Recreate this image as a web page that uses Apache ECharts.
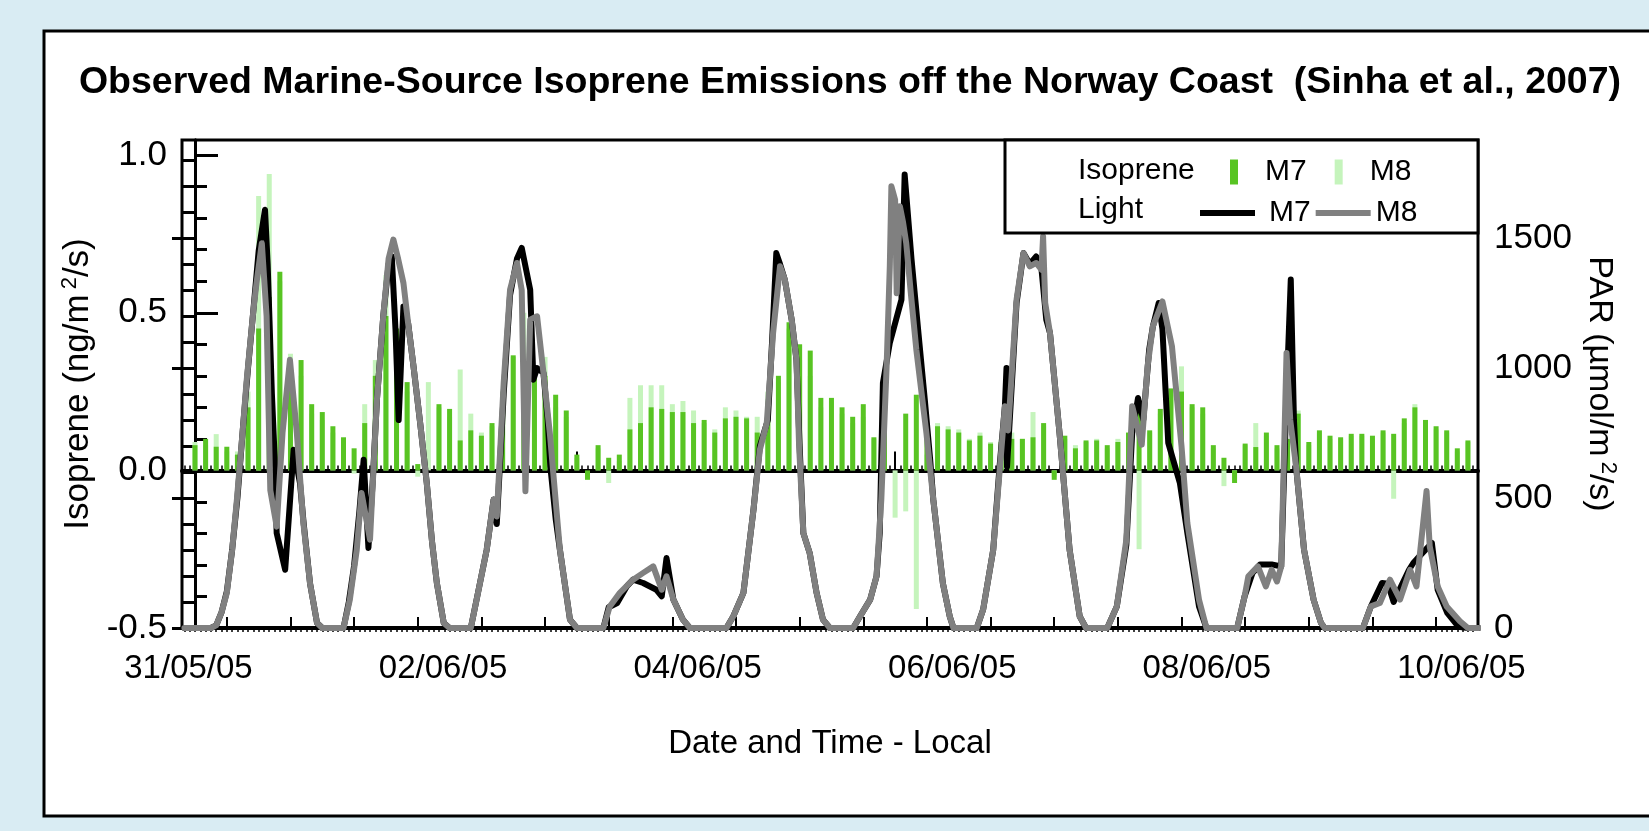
<!DOCTYPE html>
<html>
<head>
<meta charset="utf-8">
<script src="https://cdn.jsdelivr.net/npm/echarts@6/dist/echarts.min.js"></script>
<style>
html,body{margin:0;padding:0;background:#d9ecf3;}
#chart{width:1649px;height:831px;}
</style>
</head>
<body>
<div id="chart"></div>
<script>
// ---------- DATA ----------
const titleText = 'Observed Marine-Source Isoprene Emissions off the Norway Coast  (Sinha et al., 2007)';
// x values are hours after 31/05/05 00:00 local time
const xLabelHours = [0, 48, 96, 144, 192, 240];
const xLabels = ['31/05/05', '02/06/05', '04/06/05', '06/06/05', '08/06/05', '10/06/05'];
const leftTickValues = [-0.5, 0, 0.5, 1.0];
const leftTickLabels = ['-0.5', '0.0', '0.5', '1.0'];
const rightTickValues = [0, 500, 1000, 1500];
const rightTickLabels = ['0', '500', '1000', '1500'];

// isoprene flux, one bar every 2 h starting 31/05 00:00 (ng/m2/s)
const isopreneM7 = [
 0.08,0.10,0.075,0.075,0.05,0.20,0.45,0.55,0.63,0.34,
 0.35,0.21,0.185,0.14,0.105,0.07,0.15,0.30,0.49,0.45,
 0.28,0.02,null,0.21,0.195,0.095,0.127,0.11,0.15,0.22,
 0.365,0.30,0.33,0.30,0.24,0.19,0.05,-0.03,0.08,0.04,
 0.05,0.13,0.15,0.20,0.195,0.185,0.185,0.15,0.16,0.12,
 0.165,0.17,0.165,0.12,0.20,0.30,0.47,0.40,0.38,0.23,
 0.23,0.20,0.17,0.21,0.105,0.15,null,0.18,0.24,0.12,
 0.14,0.13,0.12,0.095,0.11,0.085,0.09,0.10,0.10,0.105,
 0.15,-0.03,0.11,0.07,0.095,0.095,0.08,0.09,0.12,0.21,
 0.127,0.195,0.26,0.25,0.21,0.20,0.08,0.04,-0.04,0.085,
 0.074,0.12,0.08,0.10,0.18,0.09,0.127,0.11,0.105,0.116,
 0.116,0.11,0.127,0.116,0.165,0.20,0.16,0.14,0.127,0.07,
 0.095
];
const isopreneM8 = [
 0.09,0.08,0.115,0.06,0.06,0.25,0.87,0.94,0.60,0.37,
 0.30,0.18,0.16,0.12,0.09,-0.01,0.21,0.35,0.62,0.35,
 0.25,-0.02,0.28,0.20,0.17,0.32,0.18,0.12,0.14,0.25,
 0.36,0.50,0.30,0.36,0.20,0.17,0.04,0.00,0.07,-0.04,
 0.03,0.23,0.27,0.27,0.27,0.21,0.22,0.19,0.15,0.13,
 0.20,0.19,0.17,0.17,0.25,0.28,0.45,0.35,0.30,0.20,
 0.22,0.18,0.15,0.17,0.10,0.12,-0.15,-0.13,-0.44,0.05,
 0.15,0.14,0.13,0.10,0.12,0.09,0.10,0.12,0.10,0.185,
 0.14,-0.02,0.10,0.08,0.09,0.10,0.07,0.10,0.11,-0.25,
 0.12,0.18,0.24,0.33,0.20,0.18,0.07,-0.05,-0.03,0.08,
 0.15,0.11,0.07,0.09,0.19,0.08,0.12,0.10,0.10,0.11,
 0.11,0.10,0.12,-0.09,0.15,0.21,0.15,0.13,0.12,0.06,
 0.09
];
const barStepHours = 2;

// PAR (umol/m2/s) as [hour, value]
const lightM7 = [
 [-2,0],[0,0],[3,0],[4,10],[5,60],[6,140],[7,300],[8,500],[9,760],[10,1000],[11,1220],[12,1450],[13.2,1609],[13.7,1400],[14.5,900],[15.1,620],[15.4,365],[17,224],[18.6,686],[19.8,557],[20.5,400],[21.7,170],[23,20],[24,0],
 [28,0],[29,100],[30,240],[31,450],[31.8,647],[32.7,308],[33.5,560],[34.3,878],[35.5,1200],[36.5,1400],[37.1,1430],[37.8,1150],[38.4,800],[39.3,1237],[40.2,1170],[41.2,1006],[42.5,780],[43.7,557],[44.7,330],[45.6,173],[46.9,19],[48,0],
 [52,0],[53,100],[55,301],[56.3,494],[56.9,400],[58.2,900],[59.4,1280],[60.7,1420],[61.6,1462],[63.2,1301],[63.8,955],[64.5,1000],[65.7,981],[66.5,800],[67,620],[68,420],[68.8,301],[70.7,32],[72,0],
 [77,0],[78,80],[79.6,96],[81.4,160],[82.6,186],[84.5,173],[87,147],[88,122],[88.9,269],[90.2,109],[92,32],[93.3,0],
 [100.2,0],[101.5,45],[103.4,135],[105.3,455],[106.5,700],[108,800],[108.8,1100],[109.6,1442],[110.3,1400],[111.2,1340],[112.5,1186],[113.4,1032],[114,700],[114.7,365],[115.9,288],[117.2,135],[118.4,32],[119.7,0],
 [124.1,0],[125.4,45],[127.3,109],[128.5,199],[129.1,365],[129.7,942],[131,1096],[133.2,1263],[133.8,1744],[135.1,1417],[136.4,1135],[137.6,878],[138.6,650],[139.2,494],[141,173],[142.3,45],[143,0],
 [147.4,0],[148.6,71],[150.5,301],[151.7,622],[152.7,853],[153,1000],[153.1,620],[154.9,1250],[156.2,1442],[157.4,1400],[158.6,1429],[159.6,1380],[160.5,1186],[161.2,1135],[163,750],[164.9,301],[166.8,45],[168,0],
 [172,0],[173.8,83],[175.6,320],[176.7,750],[177.8,885],[178.8,801],[179.9,1070],[180.6,1160],[181.7,1250],[182.4,1150],[183.5,712],[185.7,557],[187.1,365],[189.3,83],[190.7,0],
 [196.5,0],[197.9,122],[199.4,212],[200.8,244],[203,244],[204.8,237],[205.8,900],[206.6,1340],[207.2,800],[207.6,622],[209.1,301],[210.9,109],[212.3,19],[213,0],
 [220.2,0],[221.7,83],[223.8,173],[224.9,170],[226,100],[227.4,160],[228.9,224],[229.7,250],[231.4,288],[233.2,327],[234.3,147],[236.1,58],[238.2,5],[240,0],[242,0]
];
const lightM8 = [
 [-2,0],[0,0],[3,0],[4,10],[5,60],[6,135],[7,300],[7.9,494],[9,760],[9.7,942],[11,1220],[11.6,1327],[12.6,1480],[13.5,1200],[14.2,530],[15.4,390],[16.5,750],[17.9,1032],[19.2,750],[20.4,410],[21.7,170],[23,20],[24,0],
 [28,0],[29.2,109],[30.5,301],[31.4,519],[33,340],[34.3,878],[35.5,1200],[36.5,1420],[37.4,1494],[38.3,1420],[39.3,1327],[40.2,1170],[41.2,1006],[42.5,780],[43.7,557],[44.7,330],[45.6,173],[46.9,19],[48,0],
 [52,0],[53.1,109],[55,301],[56.3,494],[56.9,429],[58.2,942],[59.4,1301],[60.7,1404],[61.6,1300],[62.3,526],[63.2,1186],[64.5,1199],[65.7,981],[66.9,750],[68.8,301],[70.7,32],[72,0],
 [77,0],[78.2,83],[80.1,135],[82.6,186],[84.5,212],[86.4,237],[88,147],[88.9,199],[90.2,109],[92,32],[93.3,0],
 [100.2,0],[101.5,45],[103.4,135],[105.3,455],[106.5,686],[107.8,788],[109,1135],[110.3,1391],[111.2,1340],[112.5,1186],[113.4,1032],[113.9,700],[114.7,365],[115.9,288],[117.2,135],[118.4,32],[119.7,0],
 [124.1,0],[125.4,45],[127.3,109],[128.5,199],[129.4,494],[130.4,1006],[131,1391],[131.3,1699],[132,1647],[132.3,1288],[132.9,1622],[133.5,1560],[134.1,1480],[135,1280],[136,1071],[137.9,750],[139.2,494],[141,173],[142.3,45],[143,0],
 [147.4,0],[148.6,71],[150.5,301],[152.7,853],[153.3,760],[154.9,1263],[156.2,1442],[157.4,1391],[158.6,1404],[159.6,1378],[159.9,1506],[160.3,1250],[161.2,1135],[163,750],[164.9,301],[166.8,45],[168,0],
 [172,0],[173.8,83],[175.6,340],[176.7,853],[178.5,705],[179.6,1006],[180.6,1160],[182.4,1256],[184.2,1083],[186,699],[187.1,404],[189.3,109],[190.7,0],
 [196.5,0],[197.9,122],[198.6,199],[200.4,237],[201.9,160],[203,224],[204,179],[204.8,237],[205.8,1058],[206.5,800],[207.6,622],[209.1,301],[210.9,109],[212.3,19],[213,0],
 [220.2,0],[221.7,83],[223.4,96],[225.3,186],[227.2,109],[229.1,224],[230.3,160],[232.2,527],[232.8,314],[234.3,160],[236,83],[238.5,26],[240,0],[242,0]
];

// ---------- LAYOUT CONSTANTS ----------
const X_MIN = -2.45, X_MAX = 241.9;
const YL_MIN = -0.5, YL_MAX = 1.048;
const YR_MIN = 0, YR_MAX = 1877;
const FONT = '"Liberation Sans", Arial, sans-serif';

const hourTicks = [], sixTicks = [], twelveTicks = [];
for (let h = -2; h <= 241; h++) {
  if (h % 12 === 0) twelveTicks.push(h);
  else if (h % 6 === 0) sixTicks.push(h);
  else hourTicks.push(h);
}
const leftMinor = [], rightMinor = [];
for (let k = -4; k <= 10; k++) { if (k % 5 !== 0) leftMinor.push(k / 10); }
for (let k = 1; k <= 18; k++) { if (k % 5 !== 0) rightMinor.push(k * 100); }

const barsM7 = isopreneM7.map((v, i) => [i * barStepHours, v]);
const barsM8 = isopreneM8.map((v, i) => [i * barStepHours, v]);

const chart = echarts.init(document.getElementById('chart'));

function xAxisBase(extra) {
  return Object.assign({
    type: 'value', min: X_MIN, max: X_MAX, gridIndex: 0,
    splitLine: { show: false },
    axisLine: { show: false },
    axisLabel: { show: false },
    axisTick: { show: false }
  }, extra);
}
function yAxisBase(extra) {
  return Object.assign({
    type: 'value', gridIndex: 0,
    splitLine: { show: false },
    axisLine: { show: false },
    axisLabel: { show: false },
    axisTick: { show: false }
  }, extra);
}

const supStyle = { fontFamily: FONT, fontSize: 22, color: '#000', padding: [0, 0, 17, 5] };
const legendText = { fontFamily: FONT, fontSize: 30, color: '#000' };

const option = {
  backgroundColor: '#d9ecf3',
  animation: false,
  title: {
    text: titleText,
    left: 845, top: 59, textAlign: 'center',
    textStyle: { fontFamily: FONT, fontWeight: 'bold', fontSize: 37.5, color: '#000' }
  },
  graphic: [
    { type: 'rect', z: -10, shape: { x: 44, y: 31, width: 1700, height: 785 }, style: { fill: '#ffffff', stroke: '#000', lineWidth: 3 } },
    { type: 'rect', z: 10, shape: { x: 1005, y: 140, width: 473, height: 93 }, style: { fill: '#ffffff', stroke: '#000', lineWidth: 3 } },
    { type: 'text', z: 20, left: 1078, top: 156, style: { text: 'Isoprene', font: '30px ' + FONT, fill: '#000' } },
    { type: 'text', z: 20, left: 1078, top: 195, style: { text: 'Light', font: '30px ' + FONT, fill: '#000' } }
  ],
  legend: [
    {
      z: 20, left: 1225, top: 152,
      data: [
        { name: 'Isoprene M7', textStyle: Object.assign({ padding: [0, 0, 0, 22] }, legendText) },
        { name: 'Isoprene M8', textStyle: Object.assign({ padding: [0, 0, 0, 22] }, legendText) }
      ],
      icon: 'rect', itemWidth: 8, itemHeight: 25, itemGap: 28, selectedMode: false,
      formatter: n => n.split(' ')[1],
      textStyle: legendText
    },
    {
      z: 20, left: 1195, top: 193,
      data: [
        { name: 'Light M7', textStyle: Object.assign({ padding: [0, 0, 0, 9] }, legendText) },
        { name: 'Light M8', textStyle: Object.assign({ padding: [0, 0, 0, 0] }, legendText) }
      ],
      icon: 'rect', itemWidth: 55, itemHeight: 6, itemGap: 5, selectedMode: false,
      formatter: n => n.split(' ')[1],
      textStyle: legendText
    }
  ],
  grid: { left: 182, right: 171, top: 140, bottom: 203, show: true, borderColor: '#000', borderWidth: 3, backgroundColor: 'transparent' },
  xAxis: [
    xAxisBase({
      position: 'bottom',
      axisLine: { show: true, lineStyle: { color: '#000', width: 4 } },
      axisTick: { show: true, inside: true, length: 19, lineStyle: { color: '#000', width: 2 }, customValues: twelveTicks },
      axisLabel: {
        show: true, customValues: xLabelHours, margin: 24, padding: [0, 13, 0, 0],
        fontFamily: FONT, fontSize: 33, color: '#000',
        formatter: v => { const k = xLabelHours.indexOf(v); return k >= 0 ? xLabels[k] : ''; }
      },
      name: 'Date and Time - Local', nameLocation: 'middle', nameGap: 99,
      nameTextStyle: { fontFamily: FONT, fontSize: 33, color: '#000' }
    }),
    xAxisBase({ position: 'bottom', axisTick: { show: true, inside: true, length: 11, lineStyle: { color: '#000', width: 2 }, customValues: sixTicks } }),
    xAxisBase({ position: 'bottom', axisTick: { show: true, inside: true, length: 5, lineStyle: { color: '#000', width: 1.5 }, customValues: hourTicks } }),
    xAxisBase({ position: 'top', axisLine: { show: true, lineStyle: { color: '#000', width: 4 } }, axisTick: { show: true, inside: true, length: 4, lineStyle: { color: '#000', width: 1.5 }, customValues: hourTicks.concat(sixTicks, twelveTicks) } })
  ],
  yAxis: [
    yAxisBase({
      position: 'left', min: YL_MIN, max: YL_MAX,
      axisLine: { show: true, lineStyle: { color: '#000', width: 3 } },
      axisTick: { show: true, inside: true, length: 23, lineStyle: { color: '#000', width: 3 }, customValues: leftTickValues },
      axisLabel: {
        show: true, customValues: leftTickValues, margin: 15,
        fontFamily: FONT, fontSize: 35, color: '#000',
        formatter: v => { const k = leftTickValues.findIndex(t => Math.abs(t - v) < 1e-9); return k >= 0 ? leftTickLabels[k] : ''; }
      },
      name: 'Isoprene (ng/m{sup|2}/s)', nameLocation: 'middle', nameGap: 76, nameRotate: 90,
      nameTextStyle: { fontFamily: FONT, fontSize: 35, color: '#000', rich: { sup: supStyle } }
    }),
    yAxisBase({
      position: 'right', min: YR_MIN, max: YR_MAX,
      axisLine: { show: true, lineStyle: { color: '#000', width: 3 } },
      axisTick: { show: true, inside: true, length: 23, lineStyle: { color: '#000', width: 3 }, customValues: rightTickValues },
      axisLabel: {
        show: true, customValues: rightTickValues, margin: 16,
        fontFamily: FONT, fontSize: 35, color: '#000',
        formatter: v => { const k = rightTickValues.indexOf(v); return k >= 0 ? rightTickLabels[k] : ''; }
      },
      name: 'PAR (\u00b5mol/m{sup|2}/s)', nameLocation: 'middle', nameGap: 102, nameRotate: -90,
      nameTextStyle: { fontFamily: FONT, fontSize: 34, color: '#000', rich: { sup: supStyle } }
    }),
    yAxisBase({ position: 'left', min: YL_MIN, max: YL_MAX, axisTick: { show: true, inside: true, length: 12, lineStyle: { color: '#000', width: 3 }, customValues: leftMinor } }),
    yAxisBase({ position: 'right', min: YR_MIN, max: YR_MAX, axisTick: { show: true, inside: true, length: 13, lineStyle: { color: '#000', width: 3 }, customValues: rightMinor } })
  ],
  series: [
    { name: 'Isoprene M8', type: 'bar', xAxisIndex: 0, yAxisIndex: 0, data: barsM8, barWidth: 5, barGap: '-100%', color: '#c5f4bc', itemStyle: { color: '#c5f4bc' }, z: 2 },
    { name: 'Isoprene M7', type: 'bar', xAxisIndex: 0, yAxisIndex: 0, data: barsM7, barWidth: 5, barGap: '-100%', color: '#58c423', itemStyle: { color: '#58c423' }, z: 2 },
    { name: 'Light M7', type: 'line', xAxisIndex: 0, yAxisIndex: 1, data: lightM7, symbol: 'none', showSymbol: false, color: '#000', lineStyle: { color: '#000', width: 6, join: 'round', cap: 'round' }, z: 3 },
    { name: 'Light M8', type: 'line', xAxisIndex: 0, yAxisIndex: 1, data: lightM8, symbol: 'none', showSymbol: false, color: '#808080', lineStyle: { color: '#808080', width: 6, join: 'round', cap: 'round' }, z: 4 }
  ]
};
chart.setOption(option);
</script>
</body>
</html>
